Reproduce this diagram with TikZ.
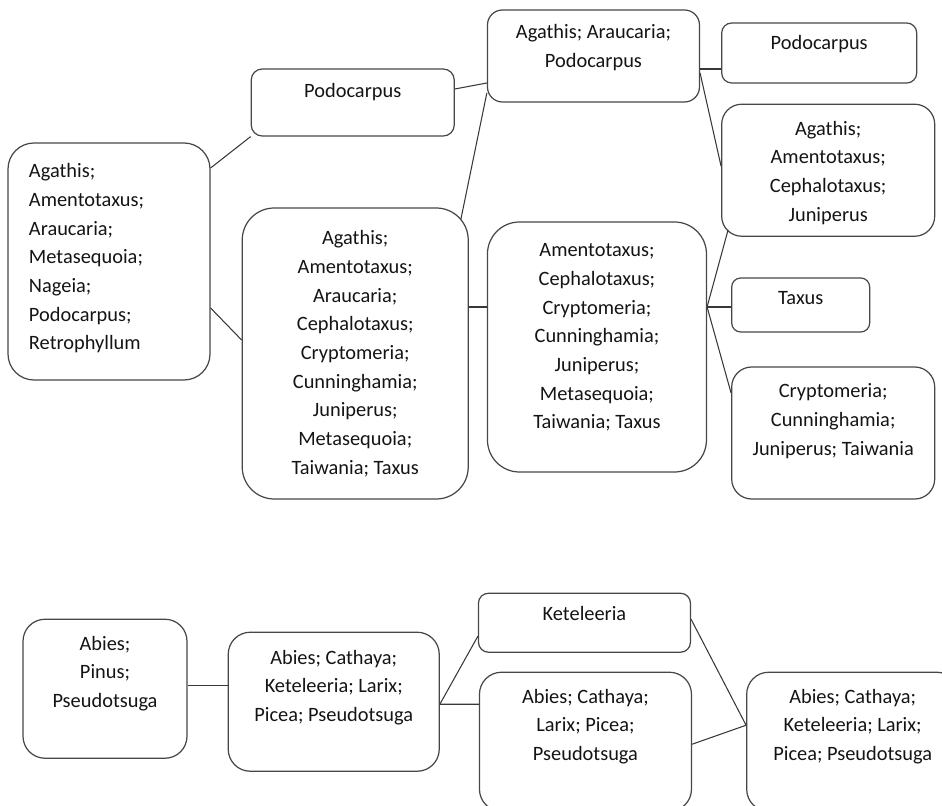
\documentclass[tikz,border=0pt]{standalone}
\usepackage{fontspec}
\setmainfont{Carlito}
\usetikzlibrary{positioning}

\newlength\px
\setlength\px{0.02cm}
% 文本框: 宽, 高, 首行基线, 内容
\newcommand\taxa[4]{\parbox[c][#2\px][t]{#1\px}{\centering\rule{0pt}{#3\px}#4}}

\tikzset{
  genus/.style={draw=black!72, line width=0.7pt, inner sep=0pt, text=black!92,
    font=\fontsize{11.6}{16.3}\selectfont},
  link/.style={draw=black!78, line width=0.6pt}
}

\begin{document}
\begin{tikzpicture}[x=0.02cm, y=0.02cm]
  \useasboundingbox (0,0) rectangle (942,805);
  \clip (0,0) rectangle (942,805);
  % 上半部分
  \node[genus, rounded corners=26\px] (a) at (109,543.5)
    {\taxa{202}{237}{35}{\raggedright\leftskip=21\px Agathis;\\Amentotaxus;\\Araucaria;\\Metasequoia;\\Nageia;\\Podocarpus;\\Retrophyllum}};
  \node[genus, rounded corners=11\px, right=40\px of a, yshift=159\px] (p1)
    {\taxa{203}{67}{29}{Podocarpus}};
  \node[genus, rounded corners=32\px, right=31\px of a, yshift=-92\px] (b)
    {\taxa{226}{291}{37}{Agathis;\\Amentotaxus;\\Araucaria;\\Cephalotaxus;\\Cryptomeria;\\Cunninghamia;\\Juniperus;\\Metasequoia;\\Taiwania; Taxus}};
  \node[genus, rounded corners=15\px, right=32\px of p1, yshift=46.5\px] (t)
    {\taxa{212}{92}{29}{Agathis; Araucaria;\\Podocarpus}};
  \node[genus, rounded corners=32\px, right=18\px of b, yshift=6.5\px] (m)
    {\taxa{219}{250}{35}{Amentotaxus;\\Cephalotaxus;\\Cryptomeria;\\Cunninghamia;\\Juniperus;\\Metasequoia;\\Taiwania; Taxus}};
  \node[genus, rounded corners=10\px, right=21\px of t, yshift=3\px] (p2)
    {\taxa{195}{60}{27}{Podocarpus}};
  \node[genus, rounded corners=20\px, below=20\px of p2, xshift=9\px] (g)
    {\taxa{213}{132}{31}{Agathis;\\Amentotaxus;\\Cephalotaxus;\\Juniperus}};
  \node[genus, rounded corners=9\px, right=24\px of m, yshift=42\px] (tx)
    {\taxa{138}{54}{27}{Taxus}};
  \node[genus, rounded corners=20\px, right=24\px of m, yshift=-86\px] (c)
    {\taxa{203}{132}{31}{Cryptomeria;\\Cunninghamia;\\Juniperus; Taiwania}};
  % 下半部分
  \node[genus, rounded corners=22\px, below=238\px of a, xshift=-4\px] (ab)
    {\taxa{164}{139}{31}{Abies;\\Pinus;\\Pseudotsuga}};
  \node[genus, rounded corners=22\px, right=40\px of ab, yshift=-13\px] (d)
    {\taxa{211}{139}{32}{Abies; Cathaya;\\Keteleeria; Larix;\\Picea; Pseudotsuga}};
  \node[genus, rounded corners=10\px, right=38\px of d, yshift=79\px] (k)
    {\taxa{212}{59}{27}{Keteleeria}};
  \node[genus, rounded corners=22\px, right=39\px of d, yshift=-40\px] (e)
    {\taxa{212}{139}{31}{Abies; Cathaya;\\Larix; Picea;\\Pseudotsuga}};
  \node[genus, rounded corners=22\px, right=54\px of e] (f)
    {\taxa{212}{139}{31}{Abies; Cathaya;\\Keteleeria; Larix;\\Picea; Pseudotsuga}};

  \coordinate (mfan) at ([yshift=40\px]m.east);
  \coordinate (dfan) at ([yshift=-2.5\px]d.east);
  \coordinate (ffan) at ([yshift=16.5\px]f.west);

  \draw[link] ([yshift=93.5\px]a.east) -- (p1.south west);
  \draw[link] ([yshift=-46.5\px]a.east) -- ([yshift=13.5\px]b.west);
  \draw[link] ([yshift=13.5\px]p1.east) -- ([yshift=-27\px]t.west);
  \draw[link] ([xshift=-8\px,yshift=-12\px]b.north east) -- ([yshift=-37\px]t.west);
  \draw[link] ([yshift=-13\px]t.east) -- ([yshift=-16\px]p2.west);
  \draw[link] ([yshift=-17\px]t.east) -- ([yshift=4\px]g.west);
  \draw[link] ([yshift=46.5\px]b.east) -- ([yshift=40\px]m.west);
  \draw[link] (mfan) -- ([xshift=7\px,yshift=7\px]g.south west);
  \draw[link] (mfan) -- ([yshift=-2\px]tx.west);
  \draw[link] (mfan) -- ([yshift=40\px]c.west);
  \draw[link] ([yshift=3.5\px]ab.east) -- ([yshift=16.5\px]d.west);
  \draw[link] (dfan) -- ([yshift=-13.5\px]k.west);
  \draw[link] (dfan) -- ([yshift=37.5\px]e.west);
  \draw[link] ([yshift=3.5\px]k.east) -- (ffan);
  \draw[link] ([yshift=-2.5\px]e.east) -- (ffan);
\end{tikzpicture}
\end{document}
